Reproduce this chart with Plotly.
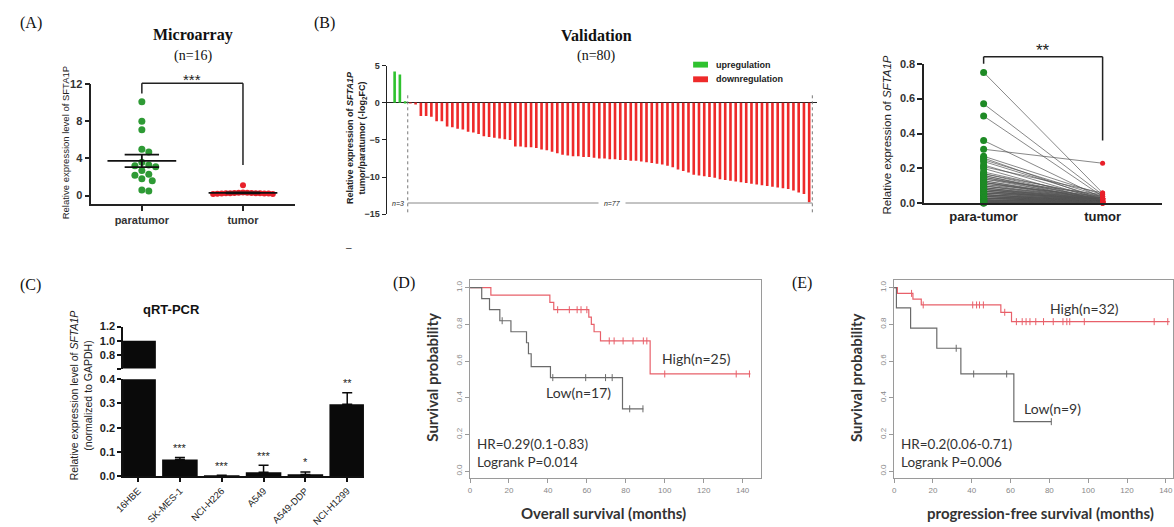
import plotly.graph_objects as go
import numpy as np

W, H = 1174, 527

# ---------------- DATA ----------------
# Panel A (Microarray, n=16)
A_groups = ["paratumor", "tumor"]
A_para = [10.1, 8.0, 7.1, 5.0, 4.7, 3.6, 3.3, 3.2, 3.1, 2.7, 2.3, 2.2, 1.8, 1.6, 0.6, 0.5]
A_tumor = [1.1, 0.32, 0.30, 0.30, 0.28, 0.27, 0.26, 0.25, 0.25, 0.24, 0.23, 0.22, 0.21, 0.20, 0.18, 0.16]
A_ticks = [0, 4, 8, 12]

# Panel B (Validation, n=80) -log2FC waterfall
B_series = ["upregulation", "downregulation"]
B_up = [4.2, 3.8, 0.2]
B_down = [-0.1, -0.2,
          -1.8, -1.8, -1.9, -2.5, -2.5, -3.2, -3.3, -3.5, -3.6, -3.9,
          -4.0, -4.2, -4.5, -4.6, -4.7, -4.8, -4.9, -5.0, -5.9, -5.9, -6.0,
          -6.0, -6.1, -6.3, -6.4, -6.6, -6.8, -7.0, -7.1, -7.2, -7.2, -7.3,
          -7.3, -7.4, -7.5, -7.5, -7.6, -7.6, -7.7, -7.7, -7.8, -7.8,
          -7.9, -8.0, -8.1, -8.2, -8.3, -8.5, -8.7, -9.0, -9.2, -9.4,
          -9.7, -9.8, -9.9, -10.0, -10.1, -10.3, -10.4, -10.5, -10.6, -10.7,
          -10.8, -10.9, -11.0, -11.1, -11.2, -11.3, -11.4, -11.5, -11.6, -11.8,
          -12.1, -12.3, -13.4]
B_ticks = [5, 0, -5, -10, -15]

# Panel B right (paired, n=80)
P_groups = ["para-tumor", "tumor"]
P_para = [0.75, 0.57, 0.50, 0.36, 0.31, 0.27, 0.26, 0.25, 0.24, 0.22,
          0.21, 0.20, 0.18, 0.17, 0.17, 0.16, 0.16, 0.15, 0.15, 0.14,
          0.14, 0.13, 0.13, 0.12, 0.12, 0.12, 0.11, 0.11, 0.10, 0.10,
          0.10, 0.09, 0.09, 0.09, 0.08, 0.08, 0.08, 0.08, 0.07, 0.07,
          0.07, 0.07, 0.06, 0.06, 0.06, 0.06, 0.05, 0.05, 0.05, 0.05,
          0.05, 0.04, 0.04, 0.04, 0.04, 0.04, 0.03, 0.03, 0.03, 0.03,
          0.03, 0.03, 0.02, 0.02, 0.02, 0.02, 0.02, 0.02, 0.015, 0.015,
          0.01, 0.01, 0.01, 0.01, 0.008, 0.006, 0.005, 0.004, 0.003, 0.002]
P_tumor = [0.06, 0.05, 0.04, 0.03, 0.23, 0.05, 0.02, 0.04, 0.03, 0.02,
           0.06, 0.01, 0.03, 0.02, 0.04, 0.01, 0.02, 0.03, 0.01, 0.02,
           0.05, 0.01, 0.02, 0.03, 0.01, 0.02, 0.01, 0.04, 0.02, 0.01,
           0.03, 0.01, 0.02, 0.01, 0.02, 0.01, 0.03, 0.01, 0.02, 0.01,
           0.01, 0.02, 0.01, 0.03, 0.01, 0.02, 0.01, 0.01, 0.02, 0.01,
           0.01, 0.02, 0.01, 0.01, 0.005, 0.01, 0.02, 0.01, 0.005, 0.01,
           0.01, 0.005, 0.01, 0.005, 0.01, 0.005, 0.01, 0.005, 0.005, 0.01,
           0.005, 0.005, 0.003, 0.005, 0.003, 0.002, 0.003, 0.002, 0.002, 0.001]
P_ticks = [0.0, 0.2, 0.4, 0.6, 0.8]

# Panel C (qRT-PCR)
C_cells = ["16HBE", "SK-MES-1", "NCI-H226", "A549", "A549-DDP", "NCI-H1299"]
C_vals = [1.0, 0.068, 0.002, 0.016, 0.006, 0.297]
C_errs = [0.0, 0.009, 0.001, 0.029, 0.011, 0.047]
C_stars = ["", "***", "***", "***", "*", "**"]
C_ticks_low = [0.0, 0.1, 0.2, 0.3, 0.4]
C_ticks_high = [0.8, 1.0, 1.2]

# Panel D (Overall survival)
D_high_t = [0, 10.7, 41, 43, 61, 62.3, 63.7, 67, 92.5, 144]
D_high_s = [1.0, 0.96, 0.92, 0.88, 0.84, 0.80, 0.76, 0.71, 0.53, 0.53]
D_high_c = [45, 51, 55, 57, 60, 71.5, 74, 78.6, 83.7, 89, 90.8, 100, 136.7, 143.5]
D_low_t = [0, 6, 10, 15.3, 21, 29, 30, 31.4, 41.3, 78.3, 89]
D_low_s = [1.0, 0.94, 0.88, 0.82, 0.76, 0.70, 0.64, 0.57, 0.51, 0.34, 0.34]
D_low_c = [16.5, 42.5, 59.4, 69.6, 73, 82, 88.8]

# Panel E (Progression-free survival)
E_high_t = [0, 1.7, 9.7, 14, 55, 60.5, 142]
E_high_s = [1.0, 0.969, 0.938, 0.906, 0.866, 0.815, 0.815]
E_high_c = [9, 15, 40.5, 42.5, 44, 46, 57, 63, 66, 68, 70, 73, 77, 82, 87, 89, 90.5, 98, 134, 141]
E_low_t = [0, 1.2, 8.5, 22, 34.4, 61.7, 81]
E_low_s = [1.0, 0.89, 0.78, 0.67, 0.53, 0.27, 0.27]
E_low_c = [32, 41, 58, 81]

KM_xticks = [0, 20, 40, 60, 80, 100, 120, 140]
KM_yticks = [0.0, 0.2, 0.4, 0.6, 0.8, 1.0]

# ---------------- HELPERS ----------------
def dx(a, b):
    return [a / W, b / W]

def dy(top, bottom):
    return [1 - bottom / H, 1 - top / H]

def beeswarm(vals, xppu, yppu, d):
    placed = []
    offs = []
    for v in vals:
        yp = v * yppu
        k = 0
        while True:
            step = (k + 1) // 2 * d * 0.5 * (1 if k % 2 else -1) if k else 0.0
            ok = all((px - step) ** 2 + (py - yp) ** 2 >= d * d for px, py in placed)
            if ok:
                placed.append((step, yp))
                offs.append(step / xppu)
                break
            k += 1
    return offs

def surv_at(ts, ss, t):
    val = ss[0]
    for ti, si in zip(ts, ss):
        if ti <= t:
            val = si
    return val

def ypaper(top_px, bot_px, rng, v):
    frac = (v - rng[0]) / (rng[1] - rng[0])
    return (1 - bot_px / H) + frac * (bot_px - top_px) / H

ann = []
def text(t, xpx, ypx, size, family="Arial", color="#111", weight="normal",
         style="normal", xanchor="center", yanchor="middle", angle=0, bg=None):
    d = dict(x=xpx / W, y=1 - ypx / H, xref="paper", yref="paper", text=t,
             showarrow=False, xanchor=xanchor, yanchor=yanchor, textangle=angle,
             font=dict(size=size, family=family, color=color, weight=weight, style=style))
    if bg:
        d["bgcolor"] = bg
    ann.append(d)

shapes = []
def bracket(xref, geo, rng, y_left, y_top, y_right, color="#222", width=1.5):
    t, b = geo
    yl, yt, yr = (ypaper(t, b, rng, v) for v in (y_left, y_top, y_right))
    for x0, x1, y0, y1 in ((0, 0, yl, yt), (0, 1, yt, yt), (1, 1, yt, yr)):
        shapes.append(dict(type="line", xref=xref, yref="paper", x0=x0, x1=x1, y0=y0, y1=y1,
                           line=dict(color=color, width=width)))

def swatch(x0, x1, top, bot, color):
    shapes.append(dict(type="rect", xref="paper", yref="paper", x0=x0 / W, x1=x1 / W,
                       y0=1 - bot / H, y1=1 - top / H, fillcolor=color, line_width=0))

fig = go.Figure()
SERIF = "Liberation Serif"
KMF = "Lato"

# ---------------- PANEL A ----------------
A_geo, A_rng = (80, 203), [-0.95, 12]
para_off = beeswarm(A_para, 102, 9.5, 7.0)
tum_off = beeswarm(A_tumor, 102, 9.5, 4.3)
fig.add_trace(go.Scatter(x=[0 + o for o in para_off], y=A_para, mode="markers",
                         marker=dict(size=7, color="#2e9a35"), xaxis="x", yaxis="y",
                         showlegend=False, cliponaxis=False))
fig.add_trace(go.Scatter(x=[1 + o for o in tum_off], y=A_tumor, mode="markers",
                         marker=dict(size=6, color="#e8202a"), xaxis="x", yaxis="y",
                         showlegend=False, cliponaxis=False))
for gi, vals in enumerate([A_para, A_tumor]):
    m = float(np.mean(vals))
    se = float(np.std(vals, ddof=1) / np.sqrt(len(vals)))
    fig.add_trace(go.Scatter(x=[gi - 0.34, gi + 0.34, None, gi - 0.17, gi + 0.17, None,
                                gi - 0.17, gi + 0.17, None, gi, gi],
                             y=[m, m, None, m + se, m + se, None, m - se, m - se, None, m - se, m + se],
                             mode="lines", line=dict(color="#111", width=1.8),
                             xaxis="x", yaxis="y", showlegend=False, cliponaxis=False))

fig.update_layout(
    xaxis=dict(domain=dx(83, 288), range=[-0.5, 1.51], anchor="y",
               showline=True, linecolor="#222", linewidth=1.5, ticks="outside",
               ticklen=5, tickwidth=1.5, tickcolor="#222", tickvals=[0, 1], ticktext=A_groups,
               tickfont=dict(size=11, family="Arial", color="#333", weight="bold"),
               showgrid=False, zeroline=False),
    yaxis=dict(domain=dy(*A_geo), range=A_rng, anchor="x",
               showline=True, linecolor="#222", linewidth=1.5, ticks="outside",
               ticklen=5, tickwidth=1.5, tickcolor="#222", tickvals=A_ticks,
               tickfont=dict(size=11, family="Arial", color="#333", weight="bold"),
               showgrid=False, zeroline=False),
)
bracket("x", A_geo, A_rng, 11.0, 12.1, 3.3)
text("(A)", 22, 17, 16, family=SERIF, color="#111")
text("Microarray", 186, 30, 16, family=SERIF, weight="bold")
text("(n=16)", 186, 51, 14, family=SERIF)
text("***", 185, 75, 15, family="Arial", color="#222")
text("Relative expression level of SFTA1P", 57, 140, 9.5, angle=-90, color="#222")

# ---------------- PANEL B (waterfall) ----------------
n_up = len(B_up)
n_tot = n_up + len(B_down)
GREEN_B, RED_B = "#2fc22f", "#ee2a2a"
fig.add_trace(go.Bar(x=list(range(n_up)), y=B_up, width=0.5, marker=dict(color=GREEN_B, line_width=0),
                     name=B_series[0], xaxis="x2", yaxis="y2", showlegend=False))
fig.add_trace(go.Bar(x=list(range(n_up, n_tot)), y=B_down, width=0.5,
                     marker=dict(color=RED_B, line_width=0),
                     name=B_series[1], xaxis="x2", yaxis="y2", showlegend=False))
fig.update_layout(
    xaxis2=dict(domain=dx(381, 815), range=[-1.5, 80.5], anchor="y2", visible=False),
    yaxis2=dict(domain=dy(61, 213), range=[-15, 5], anchor="x2",
                showline=True, linecolor="#222", linewidth=1.3, ticks="outside",
                ticklen=4, tickcolor="#222", tickvals=B_ticks,
                tickfont=dict(size=9, family="Arial", color="#333", weight="bold"),
                showgrid=False, zeroline=True, zerolinecolor="#222", zerolinewidth=1.3),
)
shapes.append(dict(type="line", xref="x2", yref="y2", x0=n_up - 0.5, x1=n_up - 0.5, y0=1, y1=-15,
                   line=dict(color="#777", width=1, dash="dot")))
shapes.append(dict(type="line", xref="x2", yref="y2", x0=n_tot - 0.4, x1=n_tot - 0.4, y0=1, y1=-15,
                   line=dict(color="#777", width=1, dash="dot")))
shapes.append(dict(type="line", xref="x2", yref="y2", x0=n_up - 0.5, x1=n_tot - 0.4, y0=-13.5, y1=-13.5,
                   line=dict(color="#888", width=1)))
ann.append(dict(x=0.6, y=-13.5, xref="x2", yref="y2", text="n=3", showarrow=False,
                font=dict(size=7, family="Arial", color="#222", style="italic")))
ann.append(dict(x=(n_up + n_tot) / 2, y=-13.5, xref="x2", yref="y2", text="  n=77  ", showarrow=False,
                bgcolor="white", font=dict(size=7, family="Arial", color="#222", style="italic")))
# legend
swatch(690, 705, 57, 63, GREEN_B)
swatch(690, 705, 72, 78, RED_B)
text(B_series[0], 711, 60, 9, color="#222", xanchor="left", weight="bold")
text(B_series[1], 711, 75, 9, color="#222", xanchor="left", weight="bold")
text("(B)", 318, 17, 16, family=SERIF)
text("Validation", 593, 30, 16, family=SERIF, weight="bold")
text("(n=80)", 593, 51, 14, family=SERIF)
text("Relative expression of <i>SFTA1P</i><br>tumor/paratumor (-log<sub>2</sub>FC)", 351, 135, 9,
     angle=-90, color="#222", weight="bold")
text("–", 343, 247, 10, color="#333")

# ---------------- PANEL B right (paired) ----------------
P_geo, P_rng = (59, 202), [0, 0.8]
lx, ly = [], []
for a, b in zip(P_para, P_tumor):
    lx += [0, 1, None]
    ly += [a, b, None]
fig.add_trace(go.Scatter(x=lx, y=ly, mode="lines", line=dict(color="#555", width=0.7),
                         xaxis="x3", yaxis="y3", showlegend=False, cliponaxis=False))
fig.add_trace(go.Scatter(x=[0] * len(P_para), y=P_para, mode="markers",
                         marker=dict(size=7, color="#1e8a25"), xaxis="x3", yaxis="y3",
                         showlegend=False, cliponaxis=False))
fig.add_trace(go.Scatter(x=[1] * len(P_tumor), y=P_tumor, mode="markers",
                         marker=dict(size=5, color="#e8202a"), xaxis="x3", yaxis="y3",
                         showlegend=False, cliponaxis=False))
fig.update_layout(
    xaxis3=dict(domain=dx(923, 1163), range=[-0.5, 1.5], anchor="y3",
                showline=True, linecolor="#222", linewidth=1.5, ticks="",
                tickvals=[0, 1], ticktext=P_groups,
                tickfont=dict(size=13, family="Arial", color="#222", weight="bold"),
                showgrid=False, zeroline=False),
    yaxis3=dict(domain=dy(*P_geo), range=P_rng, anchor="x3",
                showline=True, linecolor="#222", linewidth=1.5, ticks="outside",
                ticklen=5, tickwidth=1.5, tickcolor="#222", tickvals=P_ticks, tickformat=".1f",
                tickfont=dict(size=11, family="Arial", color="#333", weight="bold"),
                showgrid=False, zeroline=False),
)
bracket("x3", P_geo, P_rng, 0.80, 0.84, 0.36)
text("**", 1043, 46, 17, color="#222")
text("Relative expression of <i>SFTA1P</i>", 886, 132, 11.5, angle=-90, color="#222")

# ---------------- PANEL C ----------------
cx = list(range(len(C_cells)))
for ya, with_err in (("y4", True), ("y5", False)):
    fig.add_trace(go.Bar(x=cx, y=C_vals, width=0.85, marker=dict(color="#0a0a0a", line_width=0),
                         error_y=dict(type="data", array=C_errs, arrayminus=[0] * len(C_errs),
                                      symmetric=False, color="#0a0a0a", thickness=1.5, width=5,
                                      visible=with_err),
                         xaxis="x4", yaxis=ya, showlegend=False))
fig.update_layout(
    xaxis4=dict(domain=dx(115, 358), range=[-0.36, 5.4], anchor="y4",
                showline=True, linecolor="#111", linewidth=1.5, ticks="outside",
                ticklen=4, tickwidth=1.5, tickcolor="#111", tickvals=cx, ticktext=C_cells,
                tickangle=-45, tickfont=dict(size=9.5, family="Arial", color="#222"),
                showgrid=False, zeroline=False),
    yaxis4=dict(domain=dy(382, 481), range=[0, 0.4], anchor="x4",
                showline=True, linecolor="#111", linewidth=1.5, ticks="outside",
                ticklen=4, tickwidth=1.5, tickcolor="#111", tickvals=C_ticks_low, tickformat=".1f",
                tickfont=dict(size=11, family="Arial", color="#222", weight="bold"),
                showgrid=False, zeroline=False),
    yaxis5=dict(domain=dy(328, 371), range=[0.607, 1.2], anchor="x4",
                showline=True, linecolor="#111", linewidth=1.5, ticks="outside",
                ticklen=4, tickwidth=1.5, tickcolor="#111",
                tickvals=[0.607] + C_ticks_high, ticktext=[" "] + ["%.1f" % v for v in C_ticks_high],
                tickfont=dict(size=11, family="Arial", color="#222", weight="bold"),
                showgrid=False, zeroline=False),
)
for i, s in enumerate(C_stars):
    if s:
        ann.append(dict(x=i, y=C_vals[i] + C_errs[i] + 0.006, xref="x4", yref="y4", text=s,
                        showarrow=False, yanchor="bottom",
                        font=dict(size=11, family="Arial", color="#222")))
text("(C)", 22, 285, 16, family=SERIF)
text("qRT-PCR", 164, 311, 13, weight="bold", color="#111")
text("Relative expression level of <i>SFTA1P</i><br>(normalized to GAPDH)", 73, 398, 10.5,
     angle=-90, color="#222")

# ---------------- PANEL D & E (KM) ----------------
RED = "#e8606a"
GRAY = "#6a6a6a"

def km(ts, ss, cs, color, xa, ya):
    fig.add_trace(go.Scatter(x=ts, y=ss, mode="lines", line=dict(color=color, width=1.2, shape="hv"),
                             xaxis=xa, yaxis=ya, showlegend=False))
    fig.add_trace(go.Scatter(x=cs, y=[surv_at(ts, ss, c) for c in cs], mode="markers",
                             marker=dict(symbol="line-ns", size=5, line=dict(color=color, width=1)),
                             xaxis=xa, yaxis=ya, showlegend=False))

km(D_high_t, D_high_s, D_high_c, RED, "x6", "y6")
km(D_low_t, D_low_s, D_low_c, GRAY, "x6", "y6")
km(E_high_t, E_high_s, E_high_c, RED, "x7", "y7")
km(E_low_t, E_low_s, E_low_c, GRAY, "x7", "y7")

def km_axes(xdom, xrange):
    xa = dict(domain=xdom, range=xrange, showline=True, mirror=True, linecolor="#9a9a9a",
              linewidth=1, ticks="outside", ticklen=4, tickcolor="#9a9a9a", tickvals=KM_xticks,
              tickfont=dict(size=8, family="Arial", color="#888"), showgrid=False, zeroline=False)
    ya = dict(domain=dy(280, 483), range=[-0.037, 1.044], showline=True, mirror=True,
              linecolor="#9a9a9a", linewidth=1, ticks="outside", ticklen=4, tickcolor="#9a9a9a",
              tickvals=KM_yticks, tickformat=".1f", tickangle=-90,
              tickfont=dict(size=8, family="Arial", color="#888"), showgrid=False, zeroline=False)
    return xa, ya

xa6, ya6 = km_axes(dx(465, 758), [0, 149.2])
xa6["anchor"] = "y6"; ya6["anchor"] = "x6"
xa7, ya7 = km_axes(dx(892.7, 1174), [0, 143.7])
xa7["anchor"] = "y7"; ya7["anchor"] = "x7"
fig.update_layout(xaxis6=xa6, yaxis6=ya6, xaxis7=xa7, yaxis7=ya7)

text("(D)", 398, 283, 16, family=SERIF)
text("Survival probability", 427, 380, 15, family=KMF, weight="bold", angle=-90, color="#333")
text("Overall survival (months)", 600, 519, 15, family=KMF, weight="bold", color="#333")
text("High(n=25)", 657, 361, 14, family=KMF, color="#333", xanchor="left")
text("Low(n=17)", 540, 395, 14, family=KMF, color="#333", xanchor="left")
text("HR=0.29(0.1-0.83)", 470, 448, 13.5, family=KMF, color="#333", xanchor="left")
text("Logrank P=0.014", 470, 467, 13.5, family=KMF, color="#333", xanchor="left")

text("(E)", 800, 283, 16, family=SERIF)
text("Survival probability", 855, 380, 15, family=KMF, weight="bold", angle=-90, color="#333")
text("progression-free survival (months)", 1040, 519, 15, family=KMF, weight="bold", color="#333")
text("High(n=32)", 1048, 310, 14, family=KMF, color="#333", xanchor="left")
text("Low(n=9)", 1022, 412, 14, family=KMF, color="#333", xanchor="left")
text("HR=0.2(0.06-0.71)", 898, 448, 13.5, family=KMF, color="#333", xanchor="left")
text("Logrank P=0.006", 898, 467, 13.5, family=KMF, color="#333", xanchor="left")

fig.update_layout(
    width=W, height=H, margin=dict(l=0, r=0, t=0, b=0),
    paper_bgcolor="white", plot_bgcolor="white",
    barmode="overlay", showlegend=False,
    shapes=shapes, annotations=ann,
)
fig.write_html("out.html", config={"displayModeBar": False},
               post_script="document.body.style.margin='0';document.body.style.overflow='hidden';")
